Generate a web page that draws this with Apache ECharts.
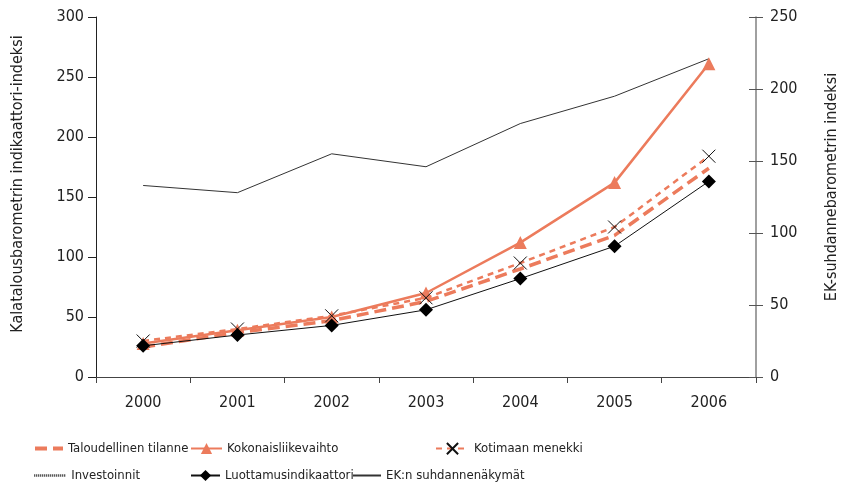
<!DOCTYPE html>
<html>
<head>
<meta charset="utf-8">
<script src="https://cdn.jsdelivr.net/npm/echarts@6/dist/echarts.min.js"></script>
<style>
html,body{margin:0;padding:0;background:#fff;}
#chart{width:842px;height:493px;}
</style>
</head>
<body>
<div id="chart"></div>
<script>
var years = ['2000','2001','2002','2003','2004','2005','2006'];
var taloudellinenTilanne = [25, 37, 47, 63, 90, 118, 174];
var kokonaisliikevaihto = [28, 39, 50, 70, 112, 162, 261];
var kotimaanMenekki = [30, 40, 51, 66, 95, 125, 184];
var investoinnit = [null, null, null, null, null, null, null];
var luottamusindikaattori = [26, 35, 43, 56, 82, 109, 163];
var ekSuhdannenakymat = [133, 128, 155, 146, 176, 195, 221];
var leftTicks = {min: 0, max: 300, interval: 50};
var rightTicks = {min: 0, max: 250, interval: 50};

var FONT = "'DejaVu Sans Condensed', 'DejaVu Sans', sans-serif";
var CORAL = '#EC7B5C';
var TXT = '#222222';

var chart = echarts.init(document.getElementById('chart'), null, {renderer: 'canvas'});

function lg(name, left, top, w, hideSymbol, lineWidth) {
  var item = {name: name};
  if (hideSymbol) { item.itemStyle = {opacity: 0}; }
  if (lineWidth) { item.lineStyle = {width: lineWidth}; }
  return {
    data: [item], left: left, top: top, orient: 'horizontal',
    itemWidth: w, itemHeight: 14, padding: 0, itemGap: 0,
    textStyle: {fontFamily: FONT, fontSize: 13, color: TXT},
    selectedMode: false
  };
}

var option = {
  animation: false,
  backgroundColor: '#ffffff',
  grid: {left: 96, right: 86, top: 17, bottom: 116, containLabel: false, outerBoundsMode: 'none'},
  legend: [
    lg('Taloudellinen tilanne', 33, 442, 28, true, 4),
    lg('Kokonaisliikevaihto', 190, 442, 31, false),
    lg('Kotimaan menekki', 435, 442, 33, false),
    lg('Investoinnit', 33, 469, 32, true, 2.5),
    lg('Luottamusindikaattori', 190, 469, 29, false),
    lg('EK:n suhdannenäkymät', 352, 469, 28, true)
  ],
  xAxis: {
    type: 'category', data: years, boundaryGap: true,
    axisLine: {show: true, lineStyle: {color: '#444', width: 1}},
    axisTick: {show: true, inside: false, length: 6, lineStyle: {color: '#444'}},
    axisLabel: {fontFamily: FONT, fontSize: 16, color: TXT, margin: 18},
    splitLine: {show: false}
  },
  yAxis: [
    {
      type: 'value', position: 'left', min: leftTicks.min, max: leftTicks.max, interval: leftTicks.interval,
      name: 'Kalatalousbarometrin indikaattori-indeksi', nameLocation: 'middle', nameGap: 70, nameRotate: 90,
      nameTextStyle: {fontFamily: FONT, fontSize: 16, color: TXT, padding: [0, 0, 0, 26]},
      axisLine: {show: true, lineStyle: {color: '#222', width: 1}},
      axisTick: {show: true, inside: false, length: 8, lineStyle: {color: '#222'}},
      axisLabel: {fontFamily: FONT, fontSize: 16, color: TXT, margin: 12},
      splitLine: {show: false}
    },
    {
      type: 'value', position: 'right', min: rightTicks.min, max: rightTicks.max, interval: rightTicks.interval,
      name: 'EK-suhdannebarometrin indeksi', nameLocation: 'middle', nameGap: 68, nameRotate: 90,
      nameTextStyle: {fontFamily: FONT, fontSize: 16, color: TXT, padding: [0, 0, 0, 20]},
      axisLine: {show: true, lineStyle: {color: '#808080', width: 1.5}},
      axisTick: {show: true, inside: false, length: 7, lineStyle: {color: '#555'}},
      axisLabel: {fontFamily: FONT, fontSize: 16, color: TXT, margin: 14},
      splitLine: {show: false}
    },
    {
      type: 'value', position: 'right', min: rightTicks.min, max: rightTicks.max, interval: rightTicks.interval,
      axisLine: {show: false},
      axisTick: {show: true, inside: true, length: 7, lineStyle: {color: '#555'}},
      axisLabel: {show: false},
      splitLine: {show: false}
    }
  ],
  series: [
    {
      name: 'EK:n suhdannenäkymät', type: 'line', yAxisIndex: 1, data: ekSuhdannenakymat,
      symbol: 'none', lineStyle: {color: '#333', width: 1}, itemStyle: {color: '#333'}
    },
    {
      name: 'Investoinnit', type: 'line', yAxisIndex: 0, data: investoinnit,
      symbol: 'none', lineStyle: {color: '#222', width: 2.5, type: [1, 1]}, itemStyle: {color: '#222'}
    },
    {
      name: 'Taloudellinen tilanne', type: 'line', yAxisIndex: 0, data: taloudellinenTilanne,
      symbol: 'none', lineStyle: {color: CORAL, width: 3.5, type: [12, 6]}, itemStyle: {color: CORAL}
    },
    {
      name: 'Kokonaisliikevaihto', type: 'line', yAxisIndex: 0, data: kokonaisliikevaihto,
      symbol: 'triangle', symbolSize: 13, lineStyle: {color: CORAL, width: 2.5}, itemStyle: {color: CORAL}
    },
    {
      name: 'Kotimaan menekki', type: 'line', yAxisIndex: 0, data: kotimaanMenekki,
      symbol: 'path://M0,0L10,10M10,0L0,10', symbolSize: 13,
      lineStyle: {color: CORAL, width: 2.5, type: [6, 5]},
      itemStyle: {color: 'rgba(0,0,0,0)', borderColor: '#111', borderWidth: 1}
    },
    {
      name: 'Luottamusindikaattori', type: 'line', yAxisIndex: 0, data: luottamusindikaattori,
      symbol: 'diamond', symbolSize: 14, lineStyle: {color: '#111', width: 1}, itemStyle: {color: '#000'}
    }
  ]
};
chart.setOption(option);
</script>
</body>
</html>
